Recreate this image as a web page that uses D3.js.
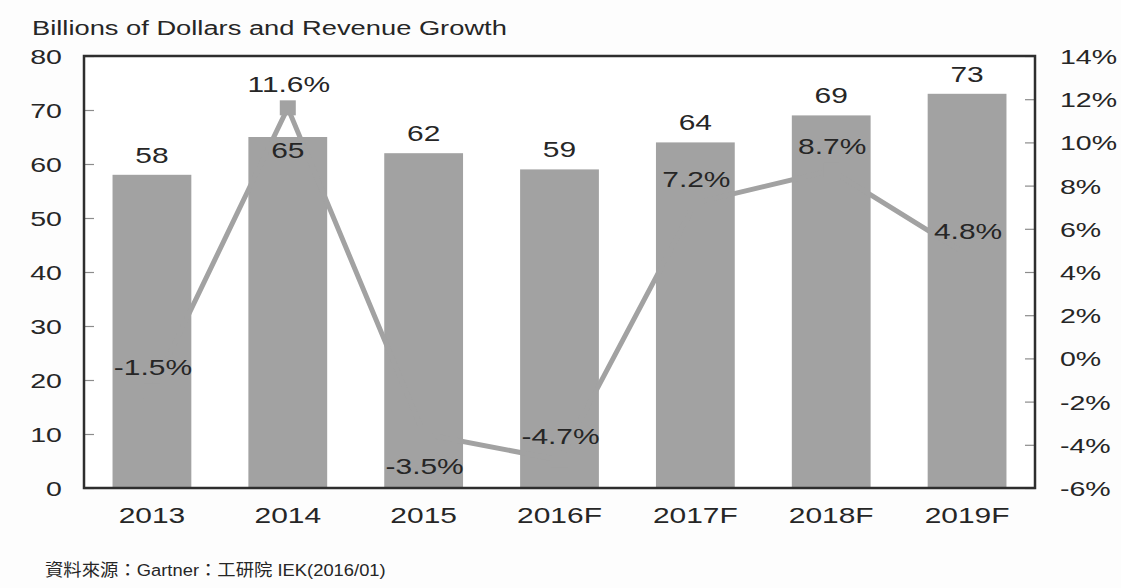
<!DOCTYPE html>
<html>
<head>
<meta charset="utf-8">
<script src="https://cdn.jsdelivr.net/npm/d3@7"></script>
<style>
  html, body { margin: 0; padding: 0; background: #fdfdfd; }
  svg { display: block; }
  text { font-family: "Liberation Sans", Arial, sans-serif; fill: #262626; }
</style>
</head>
<body>
<svg id="chart" width="1121" height="588"></svg>
<script>
// Semiconductor revenue (billions USD) with year-over-year growth
const years = ["2013", "2014", "2015", "2016F", "2017F", "2018F", "2019F"];
const revenue = [58, 65, 62, 59, 64, 69, 73];
const growth = [-1.5, 11.6, -3.5, -4.7, 7.2, 8.7, 4.8];
const revenueLabelSide = ["above", "inside", "above", "above", "above", "above", "above"];
const growthLabelSide = ["above", "above", "below", "above", "above", "above", "above"];
const revenueTicks = [0, 10, 20, 30, 40, 50, 60, 70, 80];
const growthTicks = [-6, -4, -2, 0, 2, 4, 6, 8, 10, 12, 14];
const titleText = "Billions of Dollars and Revenue Growth";
const sourceText = "資料來源：Gartner：工研院 IEK(2016/01)";

const svg = d3.select("#chart");
const plot = { left: 84, right: 1035, top: 56, bottom: 488 };
const SX = 1.36; // horizontal stretch of the lettering
const GRAY = "#a2a2a2";

const x = d3.scaleBand().domain(years).range([plot.left, plot.right]).paddingInner(0.42).paddingOuter(0.21);
const yL = d3.scaleLinear().domain([0, 80]).range([plot.bottom, plot.top]);
const yR = d3.scaleLinear().domain([-6, 14]).range([plot.bottom, plot.top]);
const cx = d => x(d) + x.bandwidth() / 2;

// stretched text helper
function label(g, str, px, py, size, anchor, sx, extra) {
  const t = g.append("text")
    .attr("transform", `translate(${px},${py}) scale(${sx},1)`)
    .attr("text-anchor", anchor)
    .attr("font-size", size)
    .text(str);
  if (extra) extra(t);
  return t;
}

// plot background
svg.append("rect").attr("x", plot.left).attr("y", plot.top)
  .attr("width", plot.right - plot.left).attr("height", plot.bottom - plot.top)
  .attr("fill", "#ffffff");

// bars
svg.append("g").selectAll("rect").data(years).join("rect")
  .attr("x", d => x(d))
  .attr("y", (d, i) => yL(revenue[i]))
  .attr("width", x.bandwidth())
  .attr("height", (d, i) => yL(0) - yL(revenue[i]))
  .attr("fill", GRAY);

function styleAxisText(sel) {
  sel.selectAll(".tick text").each(function () {
    const t = d3.select(this);
    const tx = +t.attr("x");
    t.attr("x", 0).attr("dy", "0.36em")
      .attr("transform", `translate(${tx},0) scale(${SX},1)`)
      .attr("font-size", 21).attr("font-family", null).attr("fill", "#262626");
  });
}

// left axis (inward ticks)
const axL = svg.append("g").attr("transform", `translate(${plot.left},0)`)
  .call(d3.axisLeft(yL).tickValues(revenueTicks).tickSize(-10).tickPadding(22));
axL.select(".domain").remove();
axL.selectAll(".tick line").attr("stroke", "#8c8c8c").attr("stroke-width", 1.2);
styleAxisText(axL);

// right axis (inward ticks)
const axR = svg.append("g").attr("transform", `translate(${plot.right},0)`)
  .call(d3.axisRight(yR).tickValues(growthTicks).tickSize(-10).tickPadding(25).tickFormat(d => d + "%"));
axR.select(".domain").remove();
axR.selectAll(".tick line").attr("stroke", "#8c8c8c").attr("stroke-width", 1.2);
styleAxisText(axR);

// frame
svg.append("rect").attr("x", plot.left).attr("y", plot.top)
  .attr("width", plot.right - plot.left).attr("height", plot.bottom - plot.top)
  .attr("fill", "none").attr("stroke", "#2e2e2e").attr("stroke-width", 2.5);

// growth line, same gray as the bars
const lineGen = d3.line().x((d, i) => cx(years[i])).y(d => yR(d));
svg.append("path").datum(growth)
  .attr("d", lineGen)
  .attr("fill", "none").attr("stroke", GRAY).attr("stroke-width", 5)
  .attr("stroke-linejoin", "round");
svg.append("g").selectAll("rect").data(growth).join("rect")
  .attr("x", (d, i) => cx(years[i]) - 8)
  .attr("y", d => yR(d) - 7.5)
  .attr("width", 16).attr("height", 15)
  .attr("fill", GRAY);

// revenue value labels
const labels = svg.append("g");
revenue.forEach((v, i) => {
  const py = revenueLabelSide[i] === "inside" ? yL(v) + 21 : yL(v) - 12;
  label(labels, String(v), cx(years[i]), py, 22, "middle", SX);
});

// growth value labels
growth.forEach((v, i) => {
  const py = growthLabelSide[i] === "below" ? yR(v) + 40 : yR(v) - 16;
  label(labels, v.toFixed(1) + "%", cx(years[i]) + 1, py, 22, "middle", SX);
});

// category labels
years.forEach(d => label(labels, d, cx(d), 523, 22, "middle", SX));

// title and source
label(svg, titleText, 32, 35, 19.5, "start", 1.4);
label(svg, sourceText, 45, 576, 17, "start", 1.08, t => t.attr("fill", "#3a3a3a")
  .style("font-family", "'Liberation Sans', 'Noto Sans CJK TC', 'Noto Sans CJK SC', sans-serif"));
</script>
</body>
</html>
